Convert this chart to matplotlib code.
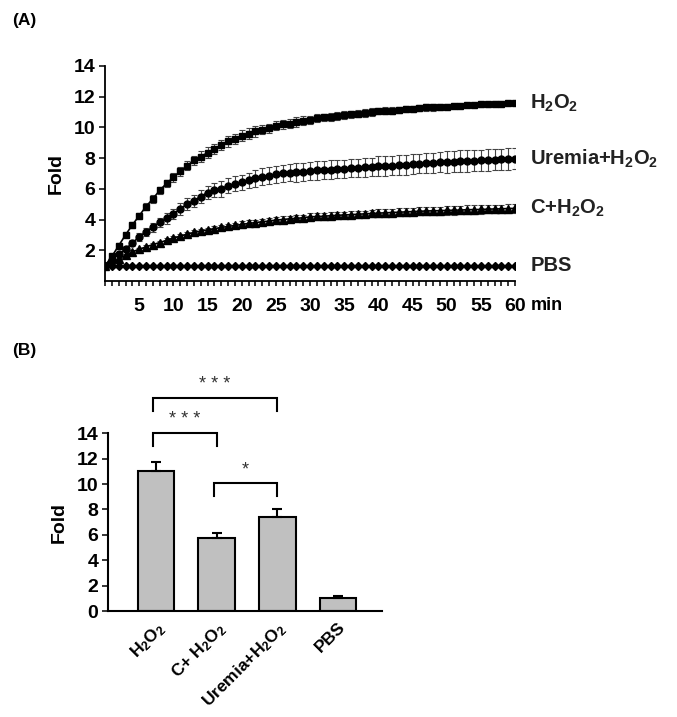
import matplotlib
matplotlib.use("Agg")
import matplotlib.pyplot as plt
import matplotlib.transforms as mtransforms
from matplotlib.ticker import MultipleLocator, FixedLocator

plt.rcParams['font.family'] = ['Liberation Sans', 'DejaVu Sans']
plt.rcParams['font.weight'] = 'bold'
plt.rcParams['mathtext.fontset'] = 'custom'
plt.rcParams['mathtext.rm'] = 'Liberation Sans:bold'
plt.rcParams['mathtext.bf'] = 'Liberation Sans:bold'
plt.rcParams['mathtext.default'] = 'bf'

# ---------------- Panel A data ----------------
minutes = list(range(0, 61))
h2o2 = [1.0, 1.6, 2.3, 3.0, 3.65, 4.25, 4.85, 5.35, 5.9, 6.35,
        6.75, 7.15, 7.5, 7.85, 8.1, 8.35, 8.6, 8.85, 9.1, 9.25,
        9.45, 9.6, 9.75, 9.85, 9.95, 10.1, 10.2, 10.25, 10.35, 10.45,
        10.5, 10.6, 10.65, 10.7, 10.75, 10.8, 10.85, 10.9, 10.95, 11.0,
        11.05, 11.1, 11.1, 11.15, 11.2, 11.2, 11.25, 11.3, 11.3, 11.35,
        11.35, 11.4, 11.4, 11.45, 11.45, 11.5, 11.5, 11.55, 11.55, 11.6, 11.6]
uremia_h2o2 = [1.0, 1.4, 1.75, 2.07, 2.48, 2.87, 3.2, 3.5, 3.82, 4.08,
               4.36, 4.69, 5.0, 5.23, 5.5, 5.76, 5.9, 6.0, 6.2, 6.33,
               6.42, 6.55, 6.7, 6.8, 6.85, 6.94, 7.0, 7.05, 7.07, 7.1,
               7.16, 7.2, 7.22, 7.25, 7.28, 7.31, 7.34, 7.37, 7.4, 7.43,
               7.46, 7.49, 7.52, 7.55, 7.58, 7.61, 7.65, 7.68, 7.7, 7.72,
               7.74, 7.77, 7.8, 7.82, 7.84, 7.86, 7.88, 7.9, 7.92, 7.95, 7.97]
c_h2o2 = [1.0, 1.19, 1.45, 1.67, 1.89, 2.07, 2.22, 2.37, 2.5, 2.65,
          2.8, 2.92, 3.05, 3.16, 3.25, 3.33, 3.4, 3.49, 3.55, 3.62,
          3.68, 3.75, 3.8, 3.86, 3.9, 3.97, 4.0, 4.05, 4.08, 4.12,
          4.18, 4.2, 4.22, 4.25, 4.28, 4.3, 4.32, 4.35, 4.37, 4.4,
          4.42, 4.44, 4.46, 4.48, 4.5, 4.52, 4.54, 4.56, 4.57, 4.58,
          4.6, 4.61, 4.62, 4.64, 4.65, 4.66, 4.68, 4.69, 4.7, 4.72, 4.73]
pbs = [1.0, 1.0, 1.0, 1.0, 1.0, 1.0, 1.0, 1.0, 1.0, 1.0,
       1.0, 1.0, 1.0, 1.0, 1.0, 1.0, 1.0, 1.0, 1.0, 1.0,
       1.0, 1.0, 1.0, 1.0, 1.0, 1.0, 1.0, 1.0, 1.0, 1.0,
       1.0, 1.0, 1.0, 1.0, 1.0, 1.0, 1.0, 1.0, 1.0, 1.0,
       1.0, 1.0, 1.0, 1.0, 1.0, 1.0, 1.0, 1.0, 1.0, 1.0,
       1.0, 1.0, 1.0, 1.0, 1.0, 1.0, 1.0, 1.0, 1.0, 1.0, 1.0]

h2o2_err = [0, 0.1, 0.15, 0.15, 0.2, 0.2, 0.2, 0.25, 0.25, 0.25,
            0.3, 0.3, 0.3, 0.3, 0.35, 0.35, 0.35, 0.35, 0.35, 0.35,
            0.35, 0.35, 0.35, 0.3, 0.3, 0.3, 0.3, 0.3, 0.3, 0.3,
            0.25, 0.25, 0.25, 0.25, 0.25, 0.25, 0.25, 0.25, 0.25, 0.25,
            0.2, 0.2, 0.2, 0.2, 0.2, 0.2, 0.2, 0.2, 0.2, 0.2,
            0.15, 0.15, 0.15, 0.15, 0.15, 0.15, 0.15, 0.15, 0.15, 0.15, 0.15]
uremia_err = [0, 0.1, 0.15, 0.2, 0.2, 0.25, 0.25, 0.3, 0.3, 0.35,
              0.35, 0.4, 0.4, 0.4, 0.45, 0.45, 0.45, 0.5, 0.5, 0.5,
              0.5, 0.5, 0.55, 0.55, 0.55, 0.55, 0.55, 0.55, 0.6, 0.6,
              0.6, 0.6, 0.6, 0.6, 0.6, 0.6, 0.6, 0.6, 0.6, 0.6,
              0.65, 0.65, 0.65, 0.65, 0.65, 0.65, 0.65, 0.65, 0.65, 0.65,
              0.7, 0.7, 0.7, 0.7, 0.7, 0.7, 0.7, 0.7, 0.7, 0.7, 0.7]
c_err = [0, 0.05, 0.05, 0.1, 0.1, 0.1, 0.1, 0.12, 0.12, 0.12,
         0.15, 0.15, 0.15, 0.15, 0.15, 0.15, 0.15, 0.15, 0.15, 0.15,
         0.2, 0.2, 0.2, 0.2, 0.2, 0.2, 0.2, 0.2, 0.2, 0.2,
         0.22, 0.22, 0.22, 0.22, 0.22, 0.22, 0.22, 0.22, 0.22, 0.22,
         0.25, 0.25, 0.25, 0.25, 0.25, 0.25, 0.25, 0.25, 0.25, 0.25,
         0.28, 0.28, 0.28, 0.28, 0.28, 0.28, 0.28, 0.28, 0.28, 0.28, 0.28]
pbs_err = [0.05] * 61

series_labels = ['H$_2$O$_2$', 'Uremia+H$_2$O$_2$', 'C+H$_2$O$_2$', 'PBS']

# ---------------- Panel B data ----------------
bar_labels = ['H$_2$O$_2$', 'C+ H$_2$O$_2$', 'Uremia+H$_2$O$_2$', 'PBS']
bar_values = [11.05, 5.78, 7.43, 1.05]
bar_errors = [0.7, 0.4, 0.6, 0.13]
# (left index, right index, bracket height, leg bottom, stars)
comparisons = [(0, 1, 14.0, 13.0, '* * *'),
               (0, 2, 16.76, 15.78, '* * *'),
               (1, 2, 10.06, 9.08, '*')]

fig = plt.figure(figsize=(6.77, 7.17), dpi=100)
W, H = 677, 717

def axes_px(l, t, r, b):
    return fig.add_axes([l / W, 1 - b / H, (r - l) / W, (b - t) / H])

# ---------------- Panel A ----------------
axA = axes_px(105, 66, 515, 281)
eb_kw = dict(ecolor='#444444', elinewidth=0.8, capsize=2.2, capthick=0.8,
             color='black', linewidth=1.2)
axA.errorbar(minutes, h2o2, yerr=h2o2_err, marker='s', markersize=4.7, **eb_kw)
axA.errorbar(minutes, uremia_h2o2, yerr=uremia_err, marker='o', markersize=5.0, **eb_kw)
axA.errorbar(minutes, c_h2o2, yerr=c_err, marker='^', markersize=5.6, **eb_kw)
axA.errorbar(minutes, pbs, yerr=pbs_err, marker='D', markersize=3.8, **eb_kw)

axA.set_xlim(0, 60)
axA.set_ylim(0, 14)
axA.spines['top'].set_visible(False)
axA.spines['right'].set_visible(False)
axA.spines['left'].set_linewidth(1.3)
axA.spines['bottom'].set_linewidth(1.3)
axA.xaxis.set_major_locator(FixedLocator(list(range(5, 61, 5))))
axA.xaxis.set_minor_locator(MultipleLocator(1))
axA.yaxis.set_major_locator(FixedLocator([2, 4, 6, 8, 10, 12, 14]))
axA.tick_params(axis='x', which='both', direction='out', length=3.5, width=1.1,
                labelsize=14, pad=9)
axA.tick_params(axis='y', direction='out', length=4, width=1.1, labelsize=14, pad=3)
for lab in axA.get_xticklabels() + axA.get_yticklabels():
    lab.set_fontweight('bold')
axA.set_ylabel('Fold', fontsize=14, fontweight='bold', labelpad=6)

offs = mtransforms.offset_copy(axA.transData, fig=fig, x=11, y=-18, units='points')
axA.text(60, 0, 'min', transform=offs, fontsize=13, fontweight='bold',
         ha='left', va='center')

last_vals = [h2o2[-1], uremia_h2o2[-1], c_h2o2[-1], pbs[-1]]
lab_offs = mtransforms.offset_copy(axA.transData, fig=fig, x=11, y=0, units='points')
for v, lab in zip(last_vals, series_labels):
    axA.text(60, v, lab, transform=lab_offs, fontsize=14.5, fontweight='bold',
             ha='left', va='center', color='#222222')

fig.text(12 / W, 1 - 20 / H, '(A)', fontsize=12.5, fontweight='bold',
         ha='left', va='center')

# ---------------- Panel B ----------------
axB = axes_px(108, 433.3, 381.7, 611)
xpos = list(range(len(bar_values)))
axB.bar(xpos, bar_values, width=0.6, color='#c0c0c0', edgecolor='black',
        linewidth=1.5, zorder=2)
axB.errorbar(xpos, bar_values, yerr=[[0] * len(bar_errors), bar_errors],
             fmt='none', ecolor='black', elinewidth=1.5, capsize=3.6,
             capthick=1.5, zorder=3)
axB.set_xlim(-0.79, 3.72)
axB.set_ylim(0, 14)
axB.spines['top'].set_visible(False)
axB.spines['right'].set_visible(False)
axB.spines['left'].set_linewidth(1.5)
axB.spines['bottom'].set_linewidth(1.5)
axB.yaxis.set_major_locator(MultipleLocator(2))
axB.tick_params(axis='y', direction='out', length=4, width=1.1, labelsize=14, pad=3)
axB.set_xticks(xpos)
axB.set_xticklabels(bar_labels, rotation=45, ha='right', rotation_mode='anchor',
                    fontsize=12.5, fontweight='bold')
axB.tick_params(axis='x', length=0, pad=6)
for lab in axB.get_yticklabels():
    lab.set_fontweight('bold')
axB.set_ylabel('Fold', fontsize=14, fontweight='bold', labelpad=6)

for i, j, top, bottom, stars in comparisons:
    xl = xpos[i] - 0.05
    xr = xpos[j]
    axB.plot([xl, xl, xr, xr], [bottom, top, top, bottom], color='black',
             linewidth=1.5, clip_on=False, solid_joinstyle='miter')
    axB.text((xl + xr) / 2, top + 0.4, stars, ha='center', va='bottom',
             fontsize=13, fontweight='normal', color='#333333', clip_on=False)

fig.text(12 / W, 1 - 350 / H, '(B)', fontsize=12.5, fontweight='bold',
         ha='left', va='center')

fig.savefig('out.png', dpi=100)
